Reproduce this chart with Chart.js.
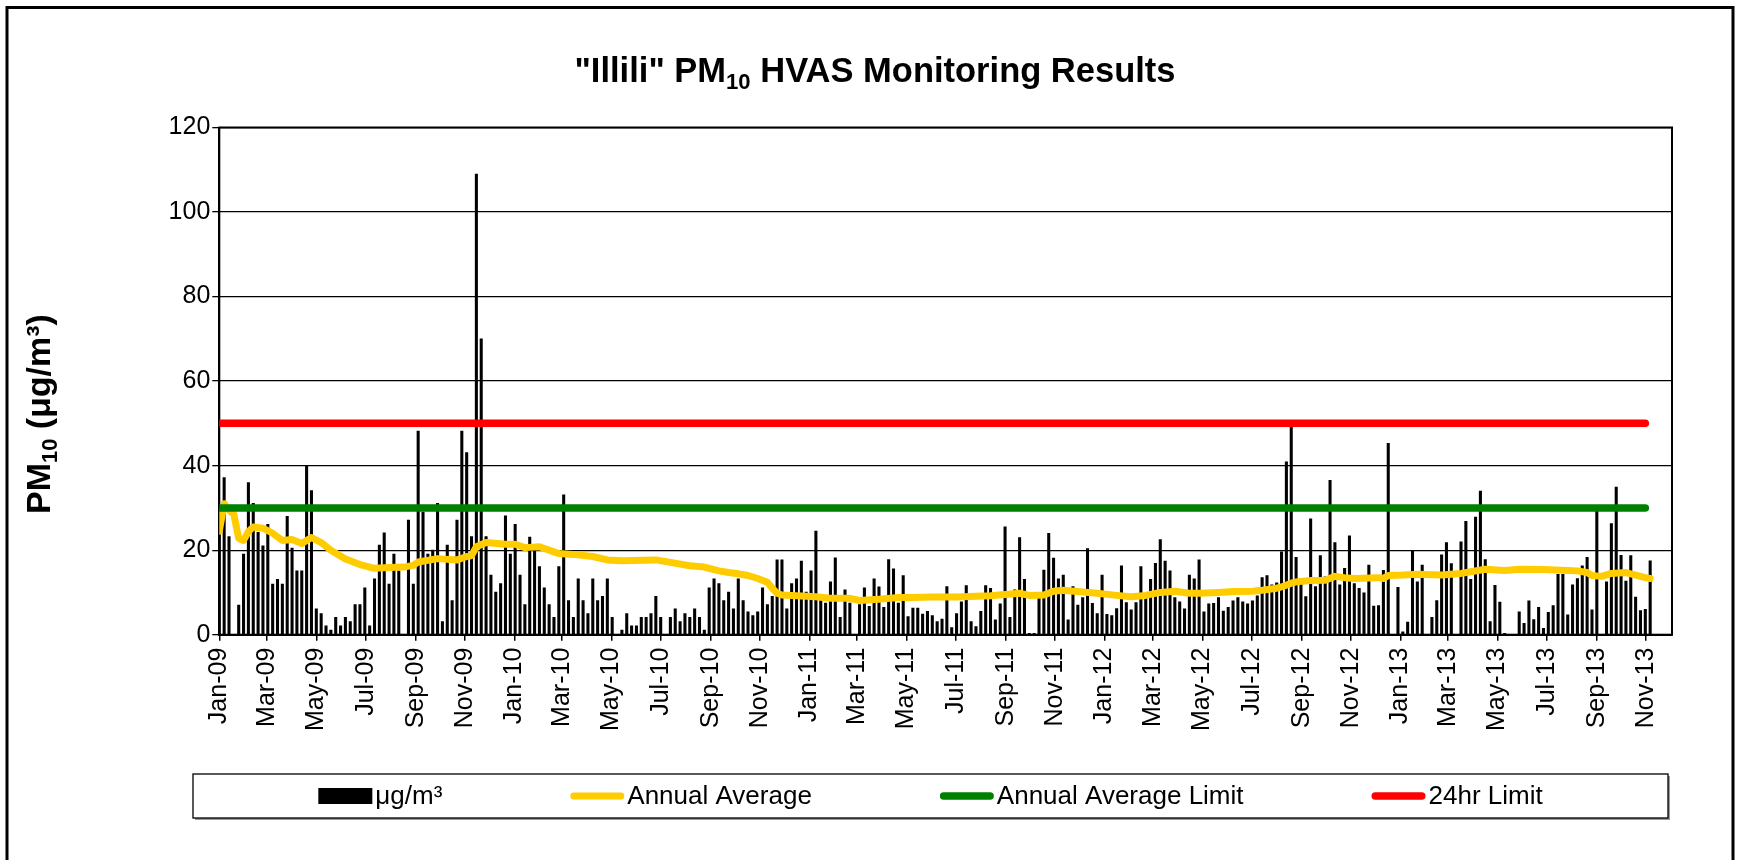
<!DOCTYPE html>
<html>
<head>
<meta charset="utf-8">
<script src="https://cdn.jsdelivr.net/npm/chart.js@4.4.1/dist/chart.umd.min.js"></script>
<style>
  html, body { margin: 0; padding: 0; background: #fff; }
  canvas { display: block; }
</style>
</head>
<body>
<canvas id="c" width="1741" height="860"></canvas>
<script>
const FONT = '"Liberation Sans", Arial, Helvetica, sans-serif';

// ---------------- DATA ----------------
const firstSampleDate = '2009-01-01';
const sampleStepDays = 6;

// PM10 24-hour results (µg/m³), one per 1-in-6-day sample; null = no sample
const pm10Values = [
  24.5, 37.2, 23.2, null, 7.0, 19.1, 36.0, 31.1, 24.2, 21.0,
  26.1, 12.0, 13.1, 12.0, 28.0, 20.5, 15.1, 15.1, 39.9, 34.1,
  6.1, 5.0, 2.1, 1.1, 4.1, 2.1, 4.1, 3.1, 7.1, 7.1,
  11.1, 2.1, 13.2, 21.2, 24.1, 12.0, 19.1, 15.1, null, 27.1,
  12.0, 48.2, 29.0, 19.1, 20.0, 31.1, 3.1, 21.2, 8.1, 27.1,
  48.2, 43.1, 23.2, 109.0, 70.0, 23.2, 14.1, 10.1, 12.1, 28.1,
  19.1, 26.1, 14.1, 7.1, 23.1, 20.1, 16.1, 11.1, 7.1, 4.1,
  16.1, 33.1, 8.1, 4.1, 13.2, 8.1, 5.0, 13.2, 8.1, 9.1,
  13.2, 4.1, null, 1.1, 5.0, 2.1, 2.1, 4.1, 4.1, 5.0,
  9.1, 4.1, null, 4.1, 6.1, 3.1, 5.0, 4.1, 6.1, 4.1,
  1.1, 11.1, 13.2, 12.1, 8.1, 10.1, 6.1, 13.2, 8.1, 5.4,
  4.5, 5.4, 11.1, 7.1, 9.1, 17.7, 17.7, 6.1, 12.1, 13.2,
  17.4, 10.1, 15.1, 24.5, 8.1, 7.5, 12.5, 18.2, 4.1, 10.6,
  7.5, null, 7.1, 11.1, 6.7, 13.2, 11.3, 6.5, 17.8, 15.6,
  7.5, 14.0, 4.3, 6.3, 6.3, 4.9, 5.5, 4.5, 3.1, 3.7,
  11.4, 1.7, 5.0, 7.8, 11.6, 3.1, 1.9, 5.5, 11.6, 11.0,
  3.5, 7.3, 25.5, 4.1, 10.6, 23.0, 13.1, 0.3, 0.3, 8.6,
  15.3, 24.0, 18.1, 13.2, 14.1, 3.5, 11.4, 7.0, 8.8, 20.4,
  7.4, 5.0, 14.1, 4.8, 4.5, 6.2, 16.3, 7.6, 5.9, 7.6,
  16.1, 8.8, 13.1, 16.9, 22.5, 17.4, 15.1, 8.8, 7.8, 6.1,
  14.1, 13.2, 17.7, 5.4, 7.3, 7.4, 8.8, 5.6, 6.5, 8.0,
  8.8, 7.8, 7.3, 8.0, 9.2, 13.5, 14.0, 11.8, 12.3, 19.6,
  40.9, 49.1, 18.3, 13.3, 9.0, 27.4, 11.4, 18.7, 13.7, 36.5,
  21.8, 11.8, 15.7, 23.4, 12.1, 11.0, 9.9, 16.5, 6.8, 6.9,
  15.2, 45.3, null, 11.2, 0.7, 3.0, 19.9, 12.5, 16.5, null,
  4.1, 8.1, 18.9, 21.8, 16.8, null, 22.0, 26.8, 13.1, 27.8,
  34.0, 17.8, 3.1, 11.7, 7.7, 0.3, null, null, 5.4, 2.7,
  8.0, 3.6, 6.5, 1.5, 5.3, 6.9, 14.3, 14.3, 4.7, 11.8,
  13.3, 16.3, 18.3, 5.9, 30.5, null, 12.5, 26.3, 34.9, 18.8,
  12.7, 18.7, 8.9, 5.7, 6.0, 17.5
];

// Annual average, read at these sample numbers
const avgSampleIndex = [
  0, 1, 2, 3, 4, 5, 6, 7, 9, 11, 13, 15, 17, 19, 21, 23, 26, 29, 32, 35,
  38, 40, 41, 45, 49, 51, 52, 53, 55, 59, 61, 63, 66, 69, 70, 73, 77, 80, 83, 90,
  93, 97, 100, 101, 103, 105, 107, 109, 111, 113, 114, 115, 116, 119, 123, 126, 130, 132, 136, 140,
  143, 147, 152, 156, 159, 162, 165, 167, 170, 172, 174, 178, 181, 185, 188, 191, 194, 197, 200, 202,
  206, 209, 213, 215, 218, 219, 221, 222, 225, 228, 230, 232, 234, 239, 240, 241, 244, 247, 252, 256,
  258, 261, 265, 268, 273, 278, 280, 282, 283, 285, 287, 290, 292, 294, 295
];
const avgValues = [
  24.5, 31.0, 29.5, 28.5, 22.8, 22.3, 24.4, 25.5, 25.2, 24.0, 22.3, 22.5, 21.6, 23.0, 21.8, 20.0, 17.9, 16.6, 15.7, 15.9,
  16.0, 16.4, 17.2, 18.0, 17.7, 18.5, 18.7, 20.8, 21.8, 21.4, 21.4, 20.6, 20.8, 19.6, 19.2, 19.0, 18.5, 17.7, 17.5, 17.7,
  17.1, 16.3, 16.0, 15.7, 15.1, 14.7, 14.4, 14.0, 13.3, 12.4, 11.0, 9.8, 9.4, 9.2, 9.0, 8.6, 8.6, 8.1, 8.4, 8.8,
  8.8, 8.9, 8.9, 9.1, 9.2, 9.5, 9.8, 9.3, 9.4, 10.3, 10.5, 10.1, 9.8, 9.3, 9.0, 9.3, 10.0, 10.3, 9.8, 9.8,
  10.0, 10.2, 10.3, 10.5, 11.0, 11.3, 12.2, 12.5, 12.8, 12.9, 13.8, 13.5, 13.3, 13.5, 13.3, 14.0, 14.1, 14.3, 14.1, 14.5,
  14.9, 15.5, 15.2, 15.5, 15.4, 15.2, 15.1, 14.7, 14.0, 13.8, 14.5, 14.7, 14.1, 13.5, 13.3
];

const annualAverageLimit = 30;
const dailyLimit = 50;
const limitStartDate = '2009-01-01';
const limitEndDate = '2013-10-31';

const tickLabels = [
  'Jan-09','Mar-09','May-09','Jul-09','Sep-09','Nov-09',
  'Jan-10','Mar-10','May-10','Jul-10','Sep-10','Nov-10',
  'Jan-11','Mar-11','May-11','Jul-11','Sep-11','Nov-11',
  'Jan-12','Mar-12','May-12','Jul-12','Sep-12','Nov-12',
  'Jan-13','Mar-13','May-13','Jul-13','Sep-13','Nov-13'
];
const axisStartDate = '2009-01-01';
const axisEndDate = '2013-12-03';
const yMin = 0, yMax = 120, yStep = 20;

const legendLabels = ['μg/m³', 'Annual Average', 'Annual Average Limit', '24hr Limit'];
const titleParts = [{ t: '"Illili" PM' }, { t: '10', sub: true }, { t: ' HVAS Monitoring Results' }];
const yTitleParts = [{ t: 'PM' }, { t: '10', sub: true }, { t: ' (μg/m³)' }];

// ---------------- HELPERS ----------------
const MS_DAY = 86400000;
const T0 = Date.parse(axisStartDate + 'T00:00:00Z');
const dayOf = s => Math.round((Date.parse(s + 'T00:00:00Z') - T0) / MS_DAY);
const MONTHS = { Jan:0, Feb:1, Mar:2, Apr:3, May:4, Jun:5, Jul:6, Aug:7, Sep:8, Oct:9, Nov:10, Dec:11 };
const labelDay = l => {
  const [m, y] = l.split('-');
  return Math.round((Date.UTC(2000 + Number(y), MONTHS[m], 1) - T0) / MS_DAY);
};
const firstDay = dayOf(firstSampleDate);
const sampleDay = k => firstDay + k * sampleStepDays;

const barData = [];
pm10Values.forEach((v, k) => { if (v !== null) barData.push({ x: sampleDay(k), y: v }); });
const avgData = avgSampleIndex.map((k, i) => ({ x: sampleDay(k), y: avgValues[i] }));
const tickDays = tickLabels.map(labelDay);

// ---------------- LAYOUT ----------------
const PLOT = { left: 219.3, top: 127.5, right: 1672, bottom: 634.7 };
const W = 1741, H = 860;

const COLORS = { bar: '#000000', avg: '#FFCC00', annual: '#008000', daily: '#FF0000' };

function drawRich(c, parts, x, y, size, weight) {
  let cx = x;
  parts.forEach(p => {
    const s = p.sub ? size * 0.64 : size;
    c.font = `${weight} ${s}px ${FONT}`;
    c.fillText(p.t, cx, p.sub ? y + size * 0.2 : y);
    cx += c.measureText(p.t).width;
  });
  return cx - x;
}
function measureRich(c, parts, size, weight) {
  let w = 0;
  parts.forEach(p => {
    const s = p.sub ? size * 0.64 : size;
    c.font = `${weight} ${s}px ${FONT}`;
    w += c.measureText(p.t).width;
  });
  return w;
}

const decorPlugin = {
  id: 'decor',
  beforeDraw(chart) {
    const c = chart.ctx;
    c.save();
    c.fillStyle = '#fff';
    c.fillRect(0, 0, W, H);
    c.strokeStyle = '#000';
    c.lineWidth = 3;
    c.strokeRect(7, 7.5, 1726, 900);
    c.restore();
  },
  beforeDatasetsDraw(chart) {
    const a = chart.chartArea, c = chart.ctx;
    c.save();
    c.strokeStyle = '#000';
    c.lineWidth = 2;
    c.strokeRect(a.left, a.top, a.right - a.left, a.bottom - a.top);
    c.restore();
  },
  afterDraw(chart) {
    const c = chart.ctx;
    c.save();
    c.fillStyle = '#000';
    c.textBaseline = 'alphabetic';
    c.textAlign = 'left';
    // Title
    const tSize = 34.5;
    const tw = measureRich(c, titleParts, tSize, 'bold');
    drawRich(c, titleParts, 875 - tw / 2, 82, tSize, 'bold');
    // Y axis title
    const ySize = 34;
    const yw = measureRich(c, yTitleParts, ySize, 'bold');
    c.save();
    c.translate(50, 414);
    c.rotate(-Math.PI / 2);
    drawRich(c, yTitleParts, -yw / 2, 0, ySize, 'bold');
    c.restore();

    // Legend box
    const box = { l: 193, t: 774, r: 1668, b: 818 };
    c.fillStyle = '#999';
    c.fillRect(box.l + 2, box.b, box.r - box.l, 2);
    c.fillRect(box.r, box.t + 2, 2, box.b - box.t);
    c.strokeStyle = '#000';
    c.lineWidth = 1.3;
    c.strokeRect(box.l, box.t, box.r - box.l, box.b - box.t);

    const lSize = 26;
    c.font = `${lSize}px ${FONT}`;
    const markerW = 54, gapTxt = 3, gapItem = 128;
    const items = [
      { kind: 'box', color: COLORS.bar },
      { kind: 'line', color: COLORS.avg, w: 7 },
      { kind: 'line', color: COLORS.annual, w: 7.5 },
      { kind: 'line', color: COLORS.daily, w: 7.5 }
    ];
    const widths = legendLabels.map(l => c.measureText(l).width);
    let total = 0;
    widths.forEach(w => total += markerW + gapTxt + w);
    total += gapItem * (legendLabels.length - 1);
    let x = (box.l + box.r) / 2 - total / 2;
    const cy = 796;
    c.textBaseline = 'middle';
    legendLabels.forEach((lab, i) => {
      const it = items[i];
      if (it.kind === 'box') {
        c.fillStyle = it.color;
        c.fillRect(x, cy - 8, markerW, 16);
      } else {
        c.strokeStyle = it.color;
        c.lineWidth = it.w;
        c.lineCap = 'round';
        c.beginPath();
        c.moveTo(x + it.w / 2, cy);
        c.lineTo(x + markerW - it.w / 2, cy);
        c.stroke();
      }
      c.fillStyle = '#000';
      c.font = `${lSize}px ${FONT}`;
      c.fillText(lab, x + markerW + gapTxt, cy + 1);
      x += markerW + gapTxt + widths[i] + gapItem;
    });
    c.restore();
  }
};

const ctx = document.getElementById('c').getContext('2d');
new Chart(ctx, {
  type: 'bar',
  data: {
    datasets: [
      { type: 'bar', label: legendLabels[0], data: barData, backgroundColor: COLORS.bar,
        borderWidth: 0, barThickness: 2.4, order: 4 },
      { type: 'line', label: legendLabels[1], data: avgData, borderColor: COLORS.avg, borderWidth: 7,
        pointRadius: 0, tension: 0, borderCapStyle: 'round', borderJoinStyle: 'round', order: 3 },
      { type: 'line', label: legendLabels[2],
        data: [{ x: dayOf(limitStartDate), y: annualAverageLimit }, { x: dayOf(limitEndDate), y: annualAverageLimit }],
        borderColor: COLORS.annual, borderWidth: 7.5, pointRadius: 0, borderCapStyle: 'round', order: 2 },
      { type: 'line', label: legendLabels[3],
        data: [{ x: dayOf(limitStartDate), y: dailyLimit }, { x: dayOf(limitEndDate), y: dailyLimit }],
        borderColor: COLORS.daily, borderWidth: 7.5, pointRadius: 0, borderCapStyle: 'round', order: 1 }
    ]
  },
  options: {
    responsive: false,
    animation: false,
    devicePixelRatio: 1,
    layout: { padding: { left: 0, top: PLOT.top, right: W - PLOT.right, bottom: 0 } },
    plugins: { legend: { display: false }, title: { display: false }, tooltip: { enabled: false } },
    scales: {
      x: {
        type: 'linear',
        min: dayOf(axisStartDate),
        max: dayOf(axisEndDate),
        offset: false,
        grid: { display: true, offset: false, drawOnChartArea: false, drawTicks: true, tickLength: 6,
                color: '#000', lineWidth: 1.5 },
        border: { display: true, color: '#000', width: 2 },
        afterBuildTicks: s => { s.ticks = tickDays.map(v => ({ value: v })); },
        afterFit: s => { s.height = H - PLOT.bottom; },
        ticks: {
          autoSkip: false, maxRotation: 90, minRotation: 90, padding: 7, color: '#000',
          font: { family: FONT, size: 25 },
          callback: (v, i) => tickLabels[i]
        }
      },
      y: {
        min: yMin, max: yMax,
        ticks: { stepSize: yStep, padding: 2, color: '#000', font: { family: FONT, size: 25 } },
        grid: { color: '#000', lineWidth: 1.3, tickLength: 7, tickColor: '#000' },
        border: { display: true, color: '#000', width: 2 },
        afterFit: s => { s.width = PLOT.left; }
      }
    }
  },
  plugins: [decorPlugin]
});
</script>
</body>
</html>
